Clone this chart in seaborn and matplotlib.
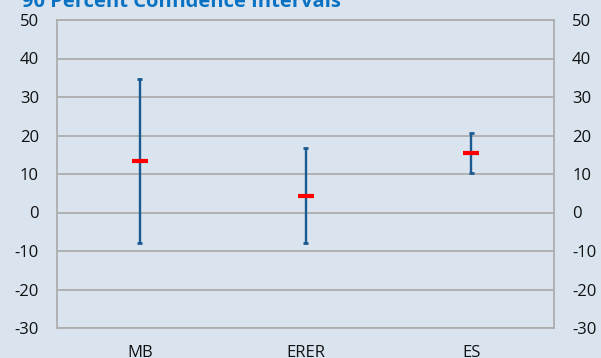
import matplotlib
matplotlib.use("Agg")
import matplotlib.pyplot as plt
import seaborn as sns
import pandas as pd

# Confidence interval summary per estimation method
categories = ["MB", "ERER", "ES"]
lower = [-8.0, -7.9, 10.2]
upper = [34.8, 16.7, 20.6]
point = [13.4, 4.4, 15.4]
yticks = [-30, -20, -10, 0, 10, 20, 30, 40, 50]

df = pd.DataFrame({"method": categories, "lower": lower, "upper": upper, "point": point})

bg = "#D9E4EF"
grid = "#ADADAD"
line_col = "#1B5A91"
mark_col = "#FF0000"
title_col = "#0A72C2"

sns.set_theme(style="white")
plt.rcParams["font.family"] = ["Open Sans", "DejaVu Sans"]

fig = plt.figure(figsize=(6.01, 3.58), dpi=100, facecolor=bg)
ax = fig.add_axes([57 / 601, 1 - 328 / 358, (554 - 57) / 601, (328 - 20) / 358])
ax.set_facecolor(bg)

# Intervals as vertical whiskers with small caps
x = list(range(len(df)))
ax.vlines(x, df["lower"], df["upper"], color=line_col, lw=1.7, zorder=3)
ax.hlines(df["lower"], [i - 0.015 for i in x], [i + 0.015 for i in x], color=line_col, lw=2.0, zorder=3)
ax.hlines(df["upper"], [i - 0.015 for i in x], [i + 0.015 for i in x], color=line_col, lw=2.0, zorder=3)

# Point estimates
sns.scatterplot(data=df, x="method", y="point", marker="_", s=135, linewidth=3,
                color=mark_col, ax=ax, zorder=4, legend=False)

ax.set_xlim(-0.5, 2.5)
ax.set_ylim(-30, 50)
ax.set_yticks(yticks)
ax.set_yticklabels([str(v) for v in yticks])
ax.yaxis.grid(True, color=grid, lw=1.3)
ax.set_axisbelow(True)
for s in ax.spines.values():
    s.set_color(grid)
    s.set_linewidth(1.3)
ax.set_xlabel("")
ax.set_ylabel("")
ax.tick_params(axis="both", length=0, labelsize=12, colors="#111111")
ax.tick_params(axis="y", pad=13)
ax.tick_params(axis="x", pad=12)

ax2 = ax.twinx()
ax2.set_ylim(-30, 50)
ax2.set_yticks(yticks)
ax2.set_yticklabels([str(v) for v in yticks])
ax2.tick_params(axis="y", length=0, labelsize=12, colors="#111111", pad=13)
for s in ax2.spines.values():
    s.set_visible(False)

fig.text(22 / 601, 1 - 7 / 358, "90 Percent Confidence Intervals", color=title_col,
         fontsize=14.5, fontweight="bold", ha="left", va="baseline")

fig.savefig("out.png", dpi=100, facecolor=bg)
